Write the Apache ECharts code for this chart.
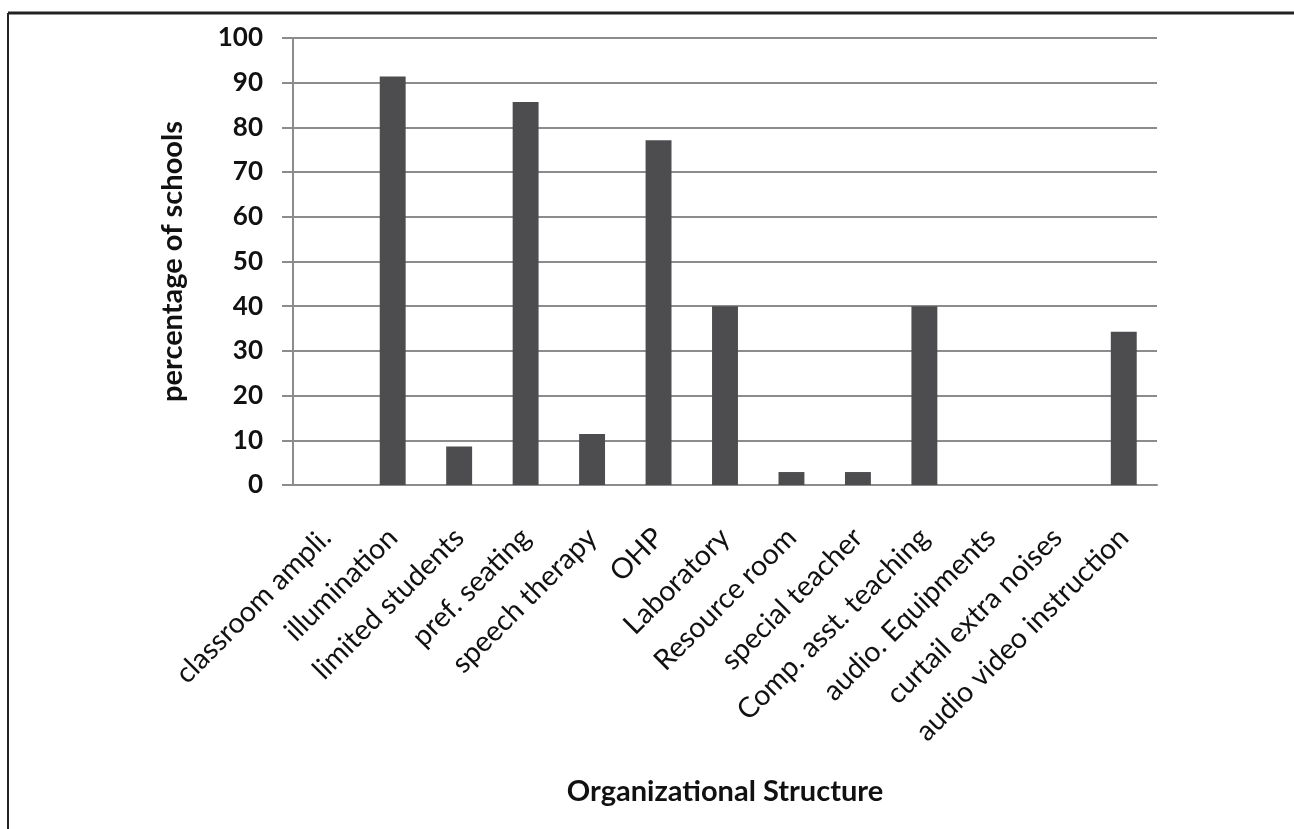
<!DOCTYPE html>
<html>
<head>
<meta charset="utf-8">
<script src="https://cdn.jsdelivr.net/npm/echarts@6/dist/echarts.min.js"></script>
<style>
  html, body { margin: 0; padding: 0; background: #fff; }
  #chart { width: 1294px; height: 829px; }
</style>
</head>
<body>
<div id="chart"></div>
<script>
  // categories and percentages
  var categories = ['classroom ampli.', 'illumination', 'limited students', 'pref. seating',
    'speech therapy', 'OHP', 'Laboratory', 'Resource room', 'special teacher',
    'Comp. asst. teaching', 'audio. Equipments', 'curtail extra noises', 'audio video instruction'];
  var percentages = [0, 91.4, 8.6, 85.7, 11.4, 77.1, 40, 2.9, 2.9, 40, 0, 0, 34.3];
  var yTicks = [0, 10, 20, 30, 40, 50, 60, 70, 80, 90, 100];

  var font = 'Lato';
  var chart = echarts.init(document.getElementById('chart'));
  var option = {
    animation: false,
    backgroundColor: '#fff',
    grid: { left: 293, right: 137, top: 38, bottom: 344 },
    graphic: [
      // frame of the original figure (top and left edges only)
      { type: 'line', shape: { x1: 8, y1: 13, x2: 1294, y2: 13 }, style: { stroke: '#222', lineWidth: 3 } },
      { type: 'line', shape: { x1: 8, y1: 13, x2: 8, y2: 829 }, style: { stroke: '#222', lineWidth: 2 } }
    ],
    xAxis: {
      type: 'category',
      data: categories,
      name: 'Organizational Structure',
      nameLocation: 'middle',
      nameGap: 292,
      nameTextStyle: { fontFamily: font, fontWeight: 'bold', fontSize: 29, color: '#111' },
      axisLine: { lineStyle: { color: '#8c8c8c', width: 2 } },
      axisTick: { show: false },
      axisLabel: {
        rotate: 45, interval: 0, margin: 48,
        fontFamily: font, fontSize: 28.5, color: '#111'
      }
    },
    yAxis: {
      type: 'value',
      min: 0, max: 100, interval: 10,
      name: 'percentage of schools',
      nameLocation: 'middle',
      nameGap: 106,
      nameTextStyle: { fontFamily: font, fontWeight: 'bold', fontSize: 29, color: '#111' },
      axisLine: { show: true, lineStyle: { color: '#8c8c8c', width: 2 } },
      axisTick: { show: true, length: 11, lineStyle: { color: '#8c8c8c', width: 2 } },
      splitLine: { lineStyle: { color: '#8c8c8c', width: 2 } },
      axisLabel: {
        margin: 30,
        fontFamily: font, fontWeight: 'bold', fontSize: 26, color: '#111',
        formatter: function (v) { return yTicks.indexOf(v) >= 0 ? String(v) : ''; }
      }
    },
    series: [{
      type: 'bar',
      data: percentages,
      barWidth: '39%',
      itemStyle: { color: '#4d4d4f' }
    }]
  };
  chart.setOption(option);
</script>
</body>
</html>
